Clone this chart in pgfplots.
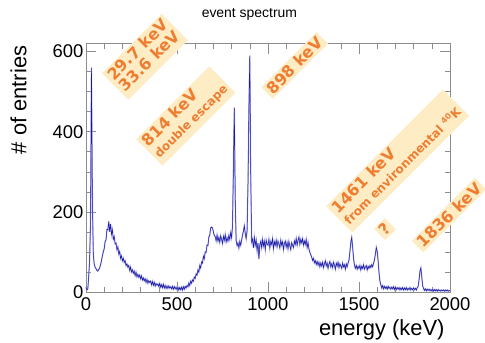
\documentclass[border=0pt]{standalone}
\usepackage{fontspec}
\setmainfont{Liberation Sans}
\newfontfamily\annotfont{DejaVu Sans}
\usepackage{pgfplots}
\usepackage{pgfplotstable}
\pgfplotsset{compat=1.18}
\definecolor{boxfill}{RGB}{254,236,196}
\definecolor{boxtext}{RGB}{238,125,49}
\definecolor{histline}{RGB}{25,25,165}
\definecolor{histband}{RGB}{175,175,232}
\pgfplotstableread[row sep=\\]{
x y\\
0 12\\ 5 5\\ 10 8\\ 15 40\\ 20 80\\ 25 180\\ 30 560\\ 35 240\\ 40 95\\ 45 70\\
50 62\\ 55 58\\ 60 54\\ 65 52\\ 70 56\\ 75 60\\ 80 68\\ 85 78\\ 90 90\\ 95 100\\
100 108\\ 105 126\\ 110 130\\ 115 156\\ 120 155\\ 125 176\\ 130 150\\ 135 170\\ 140 144\\ 145 155\\
150 132\\ 155 138\\ 160 120\\ 165 122\\ 170 106\\ 175 112\\ 180 95\\ 185 101\\ 190 84\\ 195 90\\
200 78\\ 205 84\\ 210 74\\ 215 78\\ 220 66\\ 225 70\\ 230 62\\ 235 66\\ 240 54\\ 245 62\\
250 50\\ 255 55\\ 260 47\\ 265 52\\ 270 41\\ 275 49\\ 280 38\\ 285 44\\ 290 37\\ 295 42\\
300 33\\ 305 40\\ 310 30\\ 315 35\\ 320 28\\ 325 33\\ 330 24\\ 335 31\\ 340 22\\ 345 28\\
350 24\\ 355 27\\ 360 18\\ 365 26\\ 370 17\\ 375 24\\ 380 15\\ 385 21\\ 390 17\\ 395 20\\
400 14\\ 405 21\\ 410 12\\ 415 18\\ 420 11\\ 425 19\\ 430 10\\ 435 16\\ 440 9\\ 445 15\\
450 9\\ 455 15\\ 460 10\\ 465 13\\ 470 8\\ 475 14\\ 480 7\\ 485 13\\ 490 8\\ 495 12\\
500 6\\ 505 12\\ 510 5\\ 515 11\\ 520 6\\ 525 12\\ 530 5\\ 535 13\\ 540 7\\ 545 14\\
550 10\\ 555 16\\ 560 13\\ 565 22\\ 570 16\\ 575 27\\ 580 22\\ 585 30\\ 590 27\\ 595 37\\
600 34\\ 605 45\\ 610 42\\ 615 55\\ 620 50\\ 625 66\\ 630 60\\ 635 75\\ 640 72\\ 645 89\\
650 83\\ 655 100\\ 660 99\\ 665 117\\ 670 116\\ 675 137\\ 680 142\\ 685 160\\ 690 162\\ 695 160\\
700 150\\ 705 141\\ 710 138\\ 715 128\\ 720 142\\ 725 127\\ 730 136\\ 735 124\\ 740 140\\ 745 131\\
750 121\\ 755 139\\ 760 129\\ 765 143\\ 770 125\\ 775 135\\ 780 127\\ 785 141\\ 790 131\\ 795 148\\
800 136\\ 805 165\\ 810 310\\ 815 460\\ 820 230\\ 825 128\\ 830 116\\ 835 122\\ 840 110\\ 845 126\\
850 117\\ 855 129\\ 860 142\\ 865 152\\ 870 165\\ 875 146\\ 880 133\\ 885 152\\ 890 265\\ 895 455\\
900 590\\ 905 300\\ 910 125\\ 915 132\\ 920 110\\ 925 136\\ 930 117\\ 935 129\\ 940 104\\ 945 122\\
950 82\\ 955 118\\ 960 126\\ 965 111\\ 970 131\\ 975 115\\ 980 126\\ 985 106\\ 990 129\\ 995 119\\
1000 117\\ 1005 131\\ 1010 110\\ 1015 126\\ 1020 119\\ 1025 133\\ 1030 108\\ 1035 125\\ 1040 117\\ 1045 129\\
1050 113\\ 1055 127\\ 1060 120\\ 1065 110\\ 1070 129\\ 1075 117\\ 1080 125\\ 1085 106\\ 1090 121\\ 1095 127\\
1100 112\\ 1105 123\\ 1110 108\\ 1115 126\\ 1120 115\\ 1125 106\\ 1130 123\\ 1135 117\\ 1140 111\\ 1145 127\\
1150 119\\ 1155 133\\ 1160 117\\ 1165 129\\ 1170 137\\ 1175 119\\ 1180 131\\ 1185 123\\ 1190 133\\ 1195 117\\
1200 127\\ 1205 119\\ 1210 131\\ 1215 111\\ 1220 123\\ 1225 107\\ 1230 99\\ 1235 93\\ 1240 87\\ 1245 79\\
1250 84\\ 1255 73\\ 1260 78\\ 1265 69\\ 1270 76\\ 1275 67\\ 1280 74\\ 1285 63\\ 1290 72\\ 1295 65\\
1300 74\\ 1305 61\\ 1310 70\\ 1315 78\\ 1320 65\\ 1325 72\\ 1330 59\\ 1335 70\\ 1340 76\\ 1345 63\\
1350 70\\ 1355 61\\ 1360 74\\ 1365 67\\ 1370 57\\ 1375 72\\ 1380 65\\ 1385 74\\ 1390 61\\ 1395 70\\
1400 65\\ 1405 59\\ 1410 72\\ 1415 63\\ 1420 68\\ 1425 57\\ 1430 70\\ 1435 63\\ 1440 72\\ 1445 80\\
1450 100\\ 1455 124\\ 1460 136\\ 1465 112\\ 1470 84\\ 1475 67\\ 1480 59\\ 1485 66\\ 1490 57\\ 1495 64\\
1500 59\\ 1505 66\\ 1510 55\\ 1515 64\\ 1520 59\\ 1525 68\\ 1530 57\\ 1535 62\\ 1540 66\\ 1545 55\\
1550 64\\ 1555 59\\ 1560 66\\ 1565 61\\ 1570 68\\ 1575 63\\ 1580 72\\ 1585 80\\ 1590 95\\ 1595 111\\
1600 102\\ 1605 78\\ 1610 48\\ 1615 27\\ 1620 18\\ 1625 10\\ 1630 16\\ 1635 8\\ 1640 14\\ 1645 9\\
1650 13\\ 1655 7\\ 1660 14\\ 1665 9\\ 1670 12\\ 1675 7\\ 1680 12\\ 1685 8\\ 1690 13\\ 1695 6\\
1700 12\\ 1705 6\\ 1710 11\\ 1715 7\\ 1720 11\\ 1725 5\\ 1730 10\\ 1735 6\\ 1740 11\\ 1745 5\\
1750 10\\ 1755 6\\ 1760 11\\ 1765 5\\ 1770 9\\ 1775 6\\ 1780 11\\ 1785 5\\ 1790 9\\ 1795 6\\
1800 10\\ 1805 6\\ 1810 9\\ 1815 5\\ 1820 11\\ 1825 14\\ 1830 30\\ 1835 52\\ 1840 60\\ 1845 38\\
1850 15\\ 1855 8\\ 1860 4\\ 1865 8\\ 1870 3\\ 1875 7\\ 1880 4\\ 1885 7\\ 1890 3\\ 1895 6\\
1900 3\\ 1905 7\\ 1910 2\\ 1915 6\\ 1920 3\\ 1925 6\\ 1930 2\\ 1935 6\\ 1940 3\\ 1945 5\\
1950 2\\ 1955 5\\ 1960 3\\ 1965 5\\ 1970 2\\ 1975 5\\ 1980 3\\ 1985 5\\ 1990 2\\ 1995 4\\ 2000 3\\
}\spec
\newcommand{\lines}[2]{\begin{tabular}{@{}l@{}}#1\\[-1bp]#2\end{tabular}}
\begin{document}
\begin{tikzpicture}[
  annot/.style={fill=boxfill, text=boxtext, rotate=45, inner xsep=3bp, inner ysep=2bp, anchor=center,
    font=\annotfont\bfseries\fontsize{16}{17}\selectfont}]
\begin{axis}[
  scale only axis, width=364bp, height=248.5bp,
  xmin=0, xmax=2000, ymin=0, ymax=620,
  xtick={0,500,1000,1500,2000}, ytick={0,200,400,600},
  minor x tick num=4, minor y tick num=3,
  tick align=inside, major tick length=10bp, minor tick length=5bp,
  axis line style={gray!90}, every tick/.style={gray!90, line width=0.5bp},
  tick label style={font=\fontsize{18.5}{20}\selectfont, black},
  /pgf/number format/assume math mode=true,
  /pgf/number format/1000 sep={},
  xticklabel style={yshift=-2bp},
  yticklabel style={xshift=1bp},
  clip=false,
  title={event spectrum},
  title style={at={(axis description cs:0.449,1.0825)}, anchor=base, font=\fontsize{14}{16}\selectfont},
  xlabel={energy (keV)},
  xlabel style={at={(axis description cs:0.9945,-0.177)}, anchor=base east, font=\fontsize{22}{24}\selectfont},
  ylabel={\# of entries},
  ylabel style={at={(axis description cs:-0.185,0.773)}, anchor=center, rotate=0, font=\fontsize{22}{24}\selectfont},
]
\addplot[histband, line width=1.3bp] table[x=x, y=y] {\spec};
\addplot[histline, line width=0.5bp] table[x=x, y=y] {\spec};
\node[annot] at (axis cs:324,587) {\lines{29.7 keV}{33.6 keV}};
\node[annot] at (axis cs:549,439) {\lines{814 keV}{\fontsize{12}{13}\selectfont double escape}};
\node[annot] at (axis cs:1146,565) {898 keV};
\node[annot] at (axis cs:1712,327) {\lines{1461 keV}{\fontsize{12}{13}\selectfont from environmental \textsuperscript{40}K}};
\node[annot] at (axis cs:1643,157) {?};
\node[annot] at (axis cs:1995,192) {1836 keV};
\end{axis}
\pgfresetboundingbox
\path[use as bounding box] (-86bp,-51bp) rectangle (399bp,292bp);
\end{tikzpicture}
\end{document}
